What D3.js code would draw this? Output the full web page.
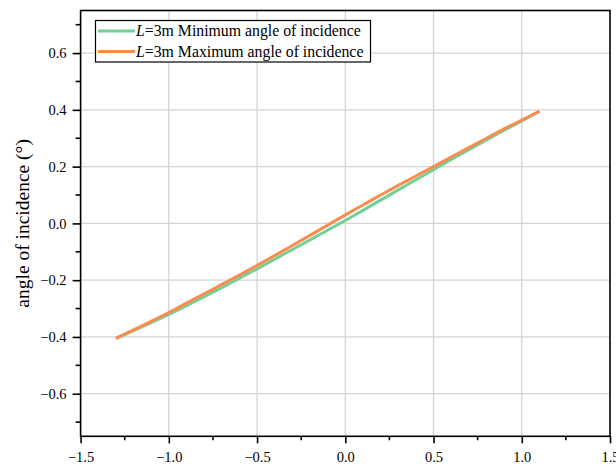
<!DOCTYPE html>
<html><head><meta charset="utf-8">
<script src="https://cdn.jsdelivr.net/npm/d3@7"></script>
<style>body{margin:0;background:#fff}svg{display:block}text{font-family:"Liberation Serif","Times New Roman",serif}</style>
</head><body>
<svg id="c" width="616" height="468"></svg>
<script>
const xValues = [-1.3,-1.2,-1.1,-1.0,-0.9,-0.8,-0.7,-0.6,-0.5,-0.4,-0.3,-0.2,-0.1,0.0,0.1,0.2,0.3,0.4,0.5,0.6,0.7,0.8,0.9,1.0,1.1];
const minAngle = [-0.405,-0.378,-0.350,-0.321,-0.290,-0.258,-0.226,-0.193,-0.160,-0.126,-0.092,-0.058,-0.024,0.010,0.046,0.082,0.118,0.154,0.189,0.225,0.260,0.294,0.328,0.361,0.395];
const maxAngle = [-0.405,-0.375,-0.345,-0.314,-0.281,-0.248,-0.215,-0.182,-0.148,-0.113,-0.078,-0.042,-0.006,0.030,0.065,0.100,0.134,0.167,0.200,0.234,0.267,0.300,0.333,0.364,0.395];
const xTicks = [-1.5,-1.0,-0.5,0.0,0.5,1.0,1.5];
const yTicks = [-0.6,-0.4,-0.2,0.0,0.2,0.4,0.6];
const xMinor = [-1.25,-0.75,-0.25,0.25,0.75,1.25];
const yMinor = [-0.7,-0.5,-0.3,-0.1,0.1,0.3,0.5,0.7];
const seriesNames = ["Minimum angle of incidence","Maximum angle of incidence"];
const seriesColors = ["#72d096","#fb8c4d"];
const yLabel = "angle of incidence (°)";

const svg = d3.select("#c");
const L = 80.6, R = 610, T = 10.5, B = 436.3;
const x = d3.scaleLinear().domain([-1.5,1.5]).range([L,R]);
const y = d3.scaleLinear().domain([-0.75,0.75]).range([B,T]);
const fmt = d => (d<0?"\u2212":"") + Math.abs(d).toFixed(1);

// grid
const g = svg.append("g");
g.selectAll("line.gx").data(xTicks.slice(1,-1)).join("line")
  .attr("x1",d=>x(d)).attr("x2",d=>x(d)).attr("y1",T).attr("y2",B)
  .attr("stroke","#d4d4d4").attr("stroke-width",1.3);
g.selectAll("line.gy").data(yTicks).join("line")
  .attr("y1",d=>y(d)).attr("y2",d=>y(d)).attr("x1",L).attr("x2",R)
  .attr("stroke","#d4d4d4").attr("stroke-width",1.3);

// lines
const line = d3.line().x(d=>x(d[0])).y(d=>y(d[1])).curve(d3.curveMonotoneX);
[minAngle, maxAngle].forEach((vals,i)=>{
  svg.append("path").datum(xValues.map((xv,j)=>[xv,vals[j]]))
    .attr("d",line).attr("fill","none").attr("stroke",seriesColors[i])
    .attr("stroke-width",3).attr("stroke-linecap","butt");
});

// frame
svg.append("rect").attr("x",L).attr("y",T).attr("width",R-L).attr("height",B-T)
  .attr("fill","none").attr("stroke","#000").attr("stroke-width",1.6);

// axes
const xAxis = d3.axisBottom(x).tickValues(xTicks).tickFormat(fmt).tickSize(7).tickPadding(8);
const gx = svg.append("g").attr("transform",`translate(0,${B})`).call(xAxis);
gx.select(".domain").remove();
gx.selectAll(".tick line").attr("stroke-width",1.6);
gx.selectAll("text").attr("font-family",null).attr("font-size",14.5).attr("fill","#000");
svg.append("g").selectAll("line").data(xMinor).join("line")
  .attr("x1",d=>x(d)).attr("x2",d=>x(d)).attr("y1",B).attr("y2",B+4)
  .attr("stroke","#000").attr("stroke-width",1.6);

const yAxis = d3.axisLeft(y).tickValues(yTicks).tickFormat(fmt).tickSize(8).tickPadding(6);
const gy = svg.append("g").attr("transform",`translate(${L},0)`).call(yAxis);
gy.select(".domain").remove();
gy.selectAll(".tick line").attr("stroke-width",1.6);
gy.selectAll("text").attr("font-family",null).attr("font-size",14.5).attr("fill","#000");
svg.append("g").selectAll("line").data(yMinor).join("line")
  .attr("y1",d=>y(d)).attr("y2",d=>y(d)).attr("x1",L).attr("x2",L-5)
  .attr("stroke","#000").attr("stroke-width",1.6);

svg.append("text").attr("transform",`translate(29,${(T+B)/2}) rotate(-90)`)
  .attr("text-anchor","middle").attr("font-size",19.5)
  .text(yLabel);

// legend
const lg = svg.append("g");
lg.append("rect").attr("x",95.5).attr("y",20.5).attr("width",275).attr("height",41.5)
  .attr("fill","#fff").attr("stroke","#000").attr("stroke-width",1.2);
seriesNames.forEach((n,i)=>{
  const yy = 31 + i*20.5;
  lg.append("line").attr("x1",98).attr("x2",135).attr("y1",yy).attr("y2",yy)
    .attr("stroke",seriesColors[i]).attr("stroke-width",3);
  const t = lg.append("text").attr("x",136).attr("y",yy+5).attr("font-size",15.8);
  t.append("tspan").attr("font-style","italic").text("L");
  t.append("tspan").text("=3m " + n);
});
</script>
</body></html>
